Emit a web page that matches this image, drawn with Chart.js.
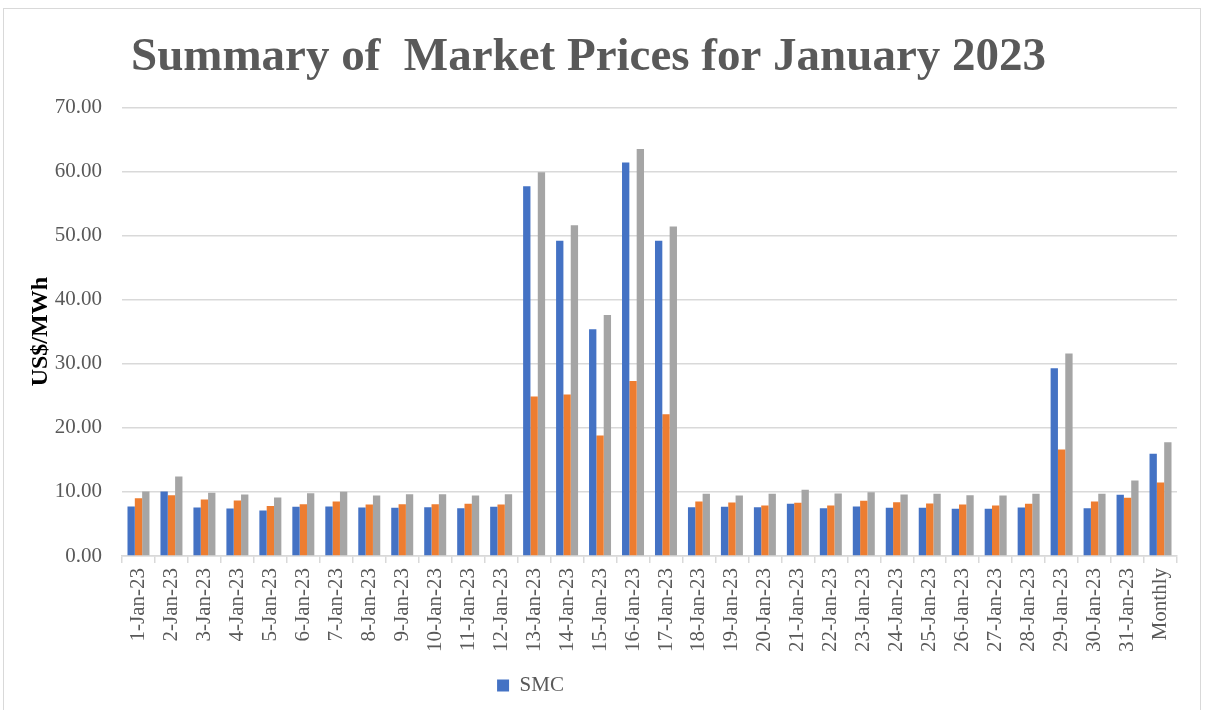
<!DOCTYPE html>
<html>
<head>
<meta charset="utf-8">
<script src="https://cdn.jsdelivr.net/npm/chart.js@4"></script>
<style>
    body { margin: 0; background: #fff; }
    .frame { position: absolute; left: 3px; top: 8px; width: 1196px; height: 720px; border: 1px solid #d9d9d9; }
    .wrap { position: absolute; left: 0; top: 0; width: 1206px; height: 710px; }
</style>
</head>
<body>
<div class="frame"></div>
<div class="wrap"><canvas id="myChart" width="1206" height="710"></canvas></div>
<script>
// market price chart start from here

const days = [
    '1-Jan-23', '2-Jan-23', '3-Jan-23', '4-Jan-23', '5-Jan-23', '6-Jan-23', '7-Jan-23', '8-Jan-23',
    '9-Jan-23', '10-Jan-23', '11-Jan-23', '12-Jan-23', '13-Jan-23', '14-Jan-23', '15-Jan-23', '16-Jan-23',
    '17-Jan-23', '18-Jan-23', '19-Jan-23', '20-Jan-23', '21-Jan-23', '22-Jan-23', '23-Jan-23', '24-Jan-23',
    '25-Jan-23', '26-Jan-23', '27-Jan-23', '28-Jan-23', '29-Jan-23', '30-Jan-23', '31-Jan-23', 'Monthly'
];

const smc = [
    7.72, 10.07, 7.56, 7.41, 7.09, 7.67, 7.72, 7.56, 7.51, 7.62, 7.46, 7.67,
    57.7, 49.2, 35.4, 61.4, 49.2, 7.60, 7.67, 7.62, 8.14, 7.46, 7.72, 7.51,
    7.51, 7.36, 7.36, 7.56, 29.3, 7.46, 9.55, 15.96
];

const series2 = [
    9.02, 9.49, 8.82, 8.66, 7.82, 8.09, 8.50, 8.03, 8.09, 8.09, 8.14, 8.03,
    24.9, 25.2, 18.8, 27.3, 22.1, 8.50, 8.35, 7.88, 8.29, 7.88, 8.61, 8.40,
    8.19, 8.03, 7.88, 8.14, 16.6, 8.50, 9.08, 11.48
];

const series3 = [
    10.07, 12.42, 9.86, 9.60, 9.13, 9.81, 10.02, 9.44, 9.65, 9.65, 9.44, 9.65,
    59.9, 51.6, 37.6, 63.5, 51.4, 9.70, 9.44, 9.70, 10.33, 9.75, 9.96, 9.60,
    9.70, 9.49, 9.44, 9.70, 31.6, 9.70, 11.8, 17.74
];

const yTicks = [0, 10, 20, 30, 40, 50, 60, 70];

const serif = "'Liberation Serif', 'Times New Roman', serif";
const textGrey = '#595959';
const gridGrey = '#d9d9d9';

// moves the legend a bit to the left, like the original
const legendShift = {
    id: 'legendShift',
    afterLayout(chart) {
        if (chart.legend) {
            chart.legend.left -= 58;
            chart.legend.right -= 58;
        }
    }
};

const ctx = document.getElementById('myChart').getContext('2d');
const myChart = new Chart(ctx, {
    type: 'bar',
    data: {
        labels: days,
        datasets: [{
            label: 'SMC',
            data: smc,
            backgroundColor: '#4472C4'
        }, {
            label: 'Series2',
            data: series2,
            backgroundColor: '#ED7D31'
        }, {
            label: 'Series3',
            data: series3,
            backgroundColor: '#A5A5A5'
        }]
    },
    options: {
        responsive: false,
        animation: false,
        layout: {
            padding: { left: 0, right: 29, top: 0, bottom: 4 }
        },
        datasets: {
            bar: {
                categoryPercentage: 0.667,
                barPercentage: 1
            }
        },
        plugins: {
            title: {
                display: true,
                text: 'Summary of  Market Prices for January 2023',
                color: textGrey,
                font: { family: serif, size: 47, weight: 'bold' },
                padding: { top: 30, bottom: 21 }
            },
            legend: {
                position: 'bottom',
                labels: {
                    color: textGrey,
                    font: { family: serif, size: 21 },
                    boxWidth: 12,
                    boxHeight: 12,
                    padding: 10,
                    filter: item => item.datasetIndex === 0
                }
            },
            tooltip: { enabled: false }
        },
        scales: {
            x: {
                afterFit: s => { s.height = 109; },
                grid: {
                    offset: true,
                    drawOnChartArea: false,
                    color: gridGrey,
                    lineWidth: 1.5,
                    tickLength: 7
                },
                border: { color: gridGrey, width: 1.5 },
                ticks: {
                    color: textGrey,
                    font: { family: serif, size: 21 },
                    minRotation: 90,
                    maxRotation: 90,
                    autoSkip: false,
                    padding: 5
                }
            },
            y: {
                min: 0,
                max: 70,
                afterFit: s => { s.width = 122; },
                afterBuildTicks: s => { s.ticks = yTicks.map(v => ({ value: v })); },
                grid: {
                    color: gridGrey,
                    lineWidth: 1.5,
                    drawTicks: false
                },
                border: { display: false },
                ticks: {
                    color: textGrey,
                    font: { family: serif, size: 21 },
                    padding: 20,
                    callback: v => v.toFixed(2)
                },
                title: {
                    display: true,
                    text: 'US$/MWh',
                    color: '#000',
                    font: { family: serif, size: 24, weight: 'bold' },
                    padding: { top: 26, bottom: 0 }
                }
            }
        }
    },
    plugins: [legendShift]
});
// market price chart end here
</script>
</body>
</html>
